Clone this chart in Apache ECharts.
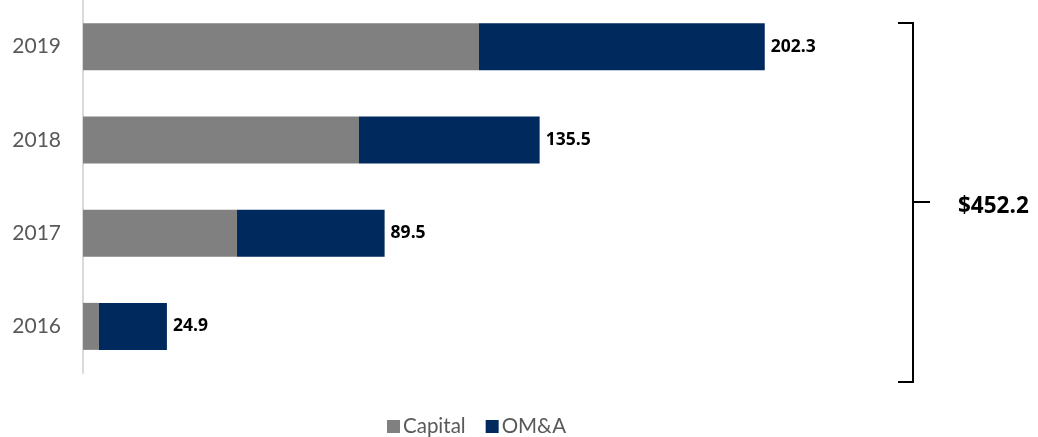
<!DOCTYPE html>
<html>
<head>
<meta charset="utf-8">
<script src="https://cdn.jsdelivr.net/npm/echarts@6/dist/echarts.min.js"></script>
<style>
  html, body { margin: 0; padding: 0; background: #ffffff; }
  #chart { width: 1038px; height: 437px; }
</style>
</head>
<body>
<div id="chart"></div>
<script>
// Spending by year, split into capital and OM&A components
const years = ['2016', '2017', '2018', '2019'];
const capital = [4.7, 45.7, 81.9, 117.5];
const omA = [20.2, 43.8, 53.6, 84.8];

const totals = years.map((_, i) => +(capital[i] + omA[i]).toFixed(1));
const grandTotal = totals.reduce((a, b) => a + b, 0).toFixed(1);

const FONT = 'Lato, "DejaVu Sans", sans-serif';
const BOLD_FONT = '"Open Sans", Lato, sans-serif';

const chart = echarts.init(document.getElementById('chart'), null, { renderer: 'canvas' });

chart.setOption({
  animation: false,
  backgroundColor: '#ffffff',
  textStyle: { fontFamily: FONT },
  grid: { left: 83, right: 112.5, top: 0, bottom: 64, containLabel: false },
  legend: {
    left: 382,
    top: 411,
    itemWidth: 13,
    itemHeight: 13,
    itemGap: 20,
    icon: 'rect',
    textStyle: { fontFamily: FONT, fontSize: 20.5, color: '#595959', padding: [0, 0, 0, -2] },
    data: ['Capital', 'OM&A']
  },
  xAxis: {
    type: 'value',
    min: 0,
    max: 250,
    show: false
  },
  yAxis: {
    type: 'category',
    data: years,
    axisLine: { show: true, lineStyle: { color: '#d9d9d9', width: 2 } },
    axisTick: { show: false },
    splitLine: { show: false },
    axisLabel: { color: '#595959', fontSize: 21, fontFamily: FONT, margin: 22 }
  },
  series: [
    {
      name: 'Capital',
      type: 'bar',
      stack: 'total',
      barWidth: 47,
      itemStyle: { color: '#808080' },
      data: capital
    },
    {
      name: 'OM&A',
      type: 'bar',
      stack: 'total',
      barWidth: 47,
      itemStyle: { color: '#002A5E' },
      label: {
        show: true,
        position: 'right',
        distance: 6,
        color: '#000000',
        fontWeight: 'bold',
        fontSize: 17.5,
        fontFamily: BOLD_FONT,
        formatter: p => totals[p.dataIndex].toFixed(1)
      },
      data: omA
    }
  ],
  graphic: [
    {
      type: 'polyline',
      shape: { points: [[898, 23], [913, 23], [913, 382], [898, 382]] },
      style: { stroke: '#000000', lineWidth: 2, fill: null }
    },
    {
      type: 'line',
      shape: { x1: 913, y1: 202, x2: 930, y2: 202 },
      style: { stroke: '#000000', lineWidth: 2 }
    },
    {
      type: 'text',
      left: 958,
      top: 195,
      style: {
        text: '$' + grandTotal,
        fill: '#000000',
        fontFamily: BOLD_FONT,
        fontWeight: 'bold',
        fontSize: 22.5
      }
    }
  ]
});
</script>
</body>
</html>
